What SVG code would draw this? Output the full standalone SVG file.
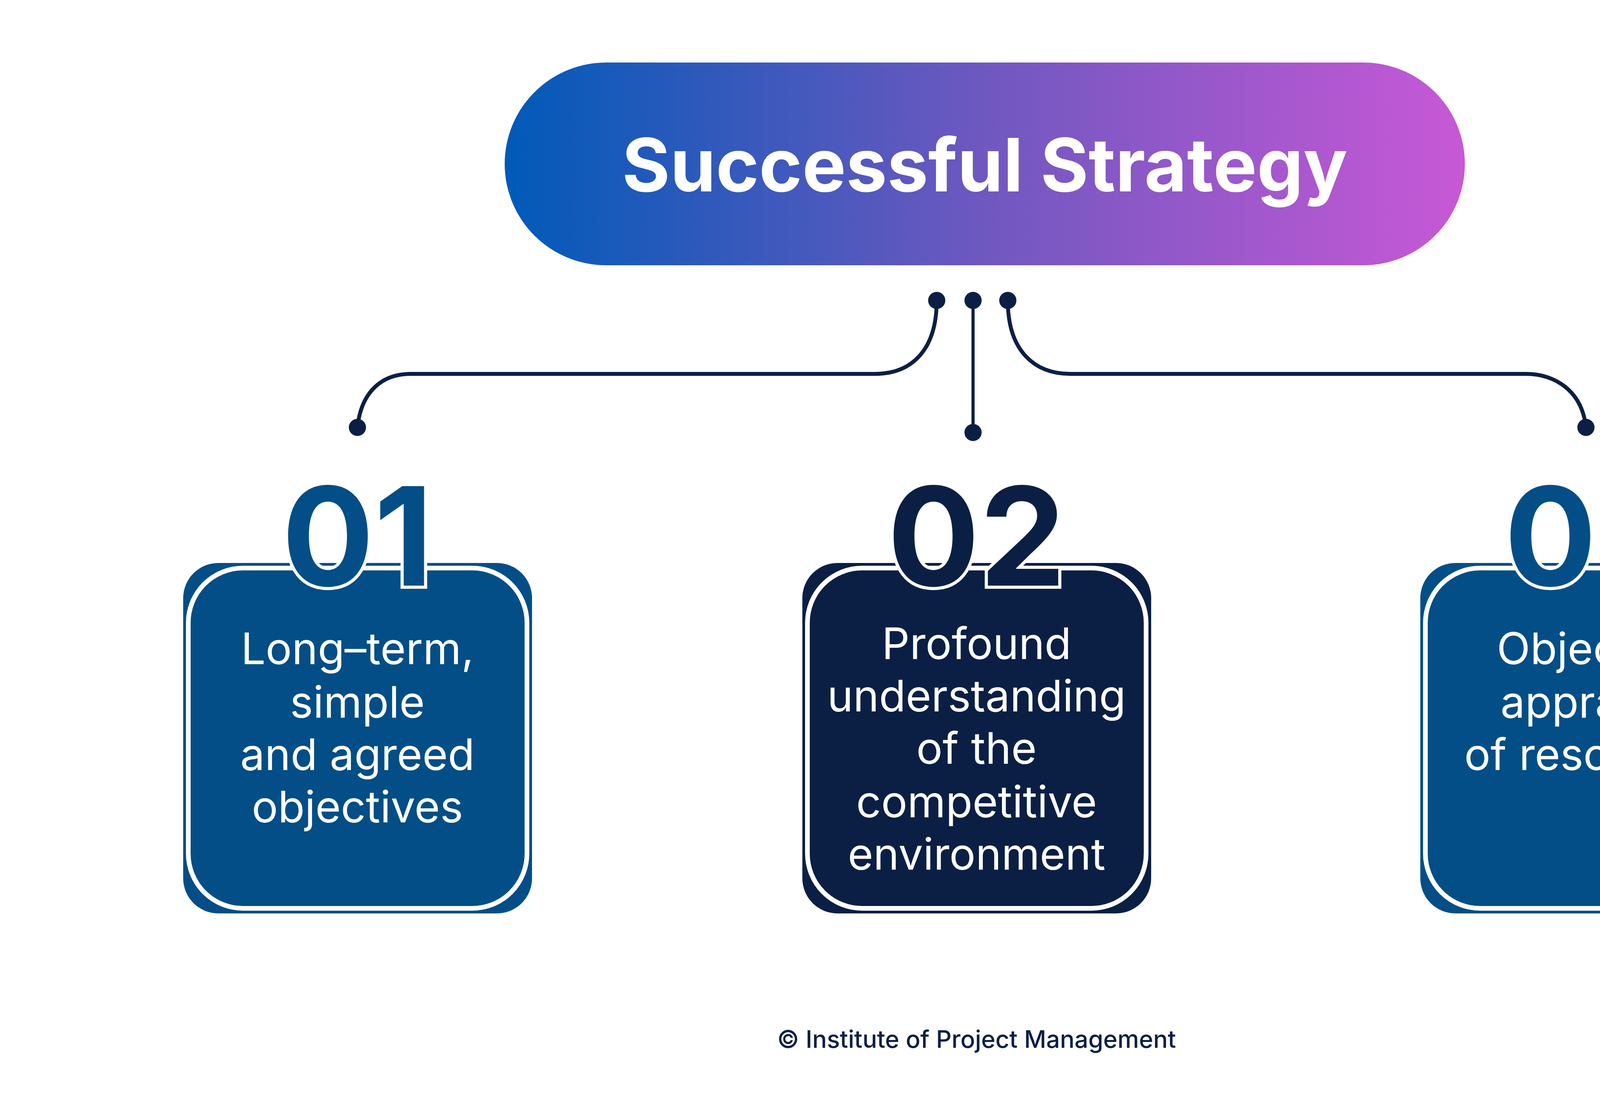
<svg xmlns="http://www.w3.org/2000/svg" width="5000" height="2813" viewBox="0 0 5000 2813">
<defs>
<linearGradient id="g" x1="0" y1="0" x2="1" y2="0">
<stop offset="0" stop-color="#005ab8"/><stop offset="0.5" stop-color="#6f58c0"/><stop offset="1" stop-color="#c858d6"/>
</linearGradient>
<style>
.num{font-family:Inter,"Liberation Sans",sans-serif;font-weight:700;font-size:350px;text-anchor:middle;stroke:#fff;stroke-width:16px;paint-order:stroke;}
.body{font-family:Inter,"Liberation Sans",sans-serif;font-size:112px;fill:#fff;text-anchor:middle;}
.inner{fill:none;stroke:#fff;stroke-width:12px;}
.ln{fill:none;stroke:#0b1f45;}
.dot{fill:#0b1f45;}
</style>
</defs>
<rect width="5000" height="2813" fill="#fff"/>
<g id="title">
<rect x="1292" y="160" width="2458" height="519" rx="260" fill="url(#g)"/>
<text x="2521" y="490" font-family="Inter,'Liberation Sans',sans-serif" font-weight="700" font-size="188" fill="#fff" text-anchor="middle">Successful Strategy</text>
</g>
<g id="connectors">
<path class="ln" stroke-width="10" d="M2398 769 C2398 900 2330 957 2240 957 L1052 957 C980 957 925 1000 915 1094"/>
<path class="ln" stroke-width="8" d="M2491 769 L2491 1107"/>
<path class="ln" stroke-width="10" d="M2580 769 C2580 900 2650 957 2740 957 L3907 957 C3980 957 4050 1000 4060 1094"/>
<circle class="dot" cx="2398" cy="769" r="22"/><circle class="dot" cx="2491" cy="769" r="22"/><circle class="dot" cx="2580" cy="769" r="22"/>
<circle class="dot" cx="915" cy="1094" r="22"/><circle class="dot" cx="2491" cy="1107" r="22"/><circle class="dot" cx="4060" cy="1094" r="22"/>
</g>
<g id="n1">
<rect x="469" y="1441" width="893" height="897" rx="90" fill="#034e86"/>
<rect x="482" y="1454" width="867" height="871" rx="140" class="inner"/>
<text x="915" y="1499" class="num" fill="#034e86">01</text>
<text class="body"><tspan x="915" y="1700">Long–term,</tspan><tspan x="915" y="1837">simple</tspan><tspan x="915" y="1971">and agreed</tspan><tspan x="915" y="2105">objectives</tspan></text>
</g>
<g id="n2">
<rect x="2054" y="1441" width="893" height="897" rx="90" fill="#0b1f45"/>
<rect x="2067" y="1454" width="867" height="871" rx="140" class="inner"/>
<text x="2500" y="1499" class="num" fill="#0b1f45">02</text>
<text class="body"><tspan x="2500" y="1687">Profound</tspan><tspan x="2500" y="1821">understanding</tspan><tspan x="2500" y="1955">of the</tspan><tspan x="2500" y="2092">competitive</tspan><tspan x="2500" y="2226">environment</tspan></text>
</g>
<g id="n3">
<rect x="3636" y="1441" width="893" height="897" rx="90" fill="#034e86"/>
<rect x="3649" y="1454" width="867" height="871" rx="140" class="inner"/>
<text x="4082" y="1499" class="num" fill="#034e86">03</text>
<text class="body"><tspan x="4082" y="1700">Objective</tspan><tspan x="4082" y="1837">appraisal</tspan><tspan x="4082" y="1971">of resources</tspan></text>
</g>
<text x="2500" y="2682" font-family="Inter,'Liberation Sans',sans-serif" font-weight="500" font-size="62" fill="#0b1f45" text-anchor="middle">© Institute of Project Management</text>
</svg>
